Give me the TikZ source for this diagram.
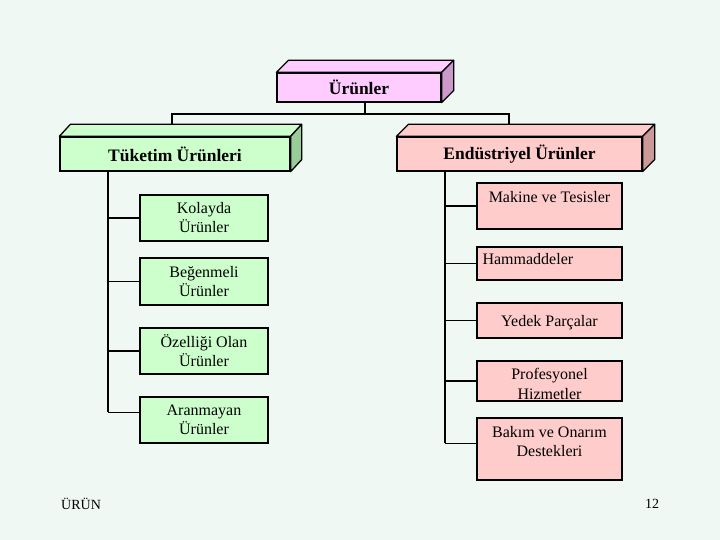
\documentclass[tikz,border=0pt]{standalone}
\usepackage{fontspec}
\setmainfont{Liberation Serif}
\usetikzlibrary{calc}
\definecolor{bg}{HTML}{F0F8F4}
\definecolor{mfront}{HTML}{FFCCFF}
\definecolor{mside}{HTML}{CC99CC}
\definecolor{gfront}{HTML}{CCFFCC}
\definecolor{gside}{HTML}{99CC99}
\definecolor{pfront}{HTML}{FFCCCC}
\definecolor{pside}{HTML}{CC9999}
\begin{document}
\begin{tikzpicture}[x=1pt,y=-1pt,
  conn/.style={line width=1.3pt, black},
  box/.style={draw=black, line width=1.3pt, rectangle, inner sep=0pt, align=center,
    font=\fontsize{16}{19}\selectfont},
  hdr/.style={box, font=\fontsize{17.5}{20}\selectfont\bfseries},
  txt/.style={inner sep=0pt, align=center, font=\fontsize{16}{19}\selectfont},
  foot/.style={inner sep=0pt, font=\fontsize{14}{16}\selectfont},
  face/.style={draw=black, line width=1.3pt, line join=round}]
\fill[bg] (0,0) rectangle (720,540);
\useasboundingbox (0,0) rectangle (720,540);

% header boxes
\node[hdr, fill=mfront, minimum width=164pt, minimum height=29pt] (u) at (359,87.5) {Ürünler};
\filldraw[face, fill=mfront] (u.north west) -- ++(12,-12) -- ($(u.north east)+(12,-12)$) -- (u.north east) -- cycle;
\filldraw[face, fill=mside] (u.north east) -- ++(12,-12) -- ($(u.south east)+(12,-12)$) -- (u.south east) -- cycle;

\node[hdr, fill=gfront, minimum width=230pt, minimum height=34pt] (t) at (175,154) {Tüketim Ürünleri};
\filldraw[face, fill=gfront] (t.north west) -- ++(11,-12) -- ($(t.north east)+(11,-12)$) -- (t.north east) -- cycle;
\filldraw[face, fill=gside] (t.north east) -- ++(11,-12) -- ($(t.south east)+(11,-12)$) -- (t.south east) -- cycle;

\node[hdr, fill=pfront, minimum width=245pt, minimum height=34pt] (e) at (519.5,154) {Endüstriyel Ürünler};
\filldraw[face, fill=pfront] (e.north west) -- ++(12,-12) -- ($(e.north east)+(12,-12)$) -- (e.north east) -- cycle;
\filldraw[face, fill=pside] (e.north east) -- ++(12,-12) -- ($(e.south east)+(12,-12)$) -- (e.south east) -- cycle;

% top connectors
\coordinate (bus) at (365,114);
\coordinate (tl) at (172,125);
\coordinate (tr) at (509,125);
\draw[conn] (bus |- u.south) -- (bus);
\draw[conn] (tl) |- (bus) -| (tr);

% left children
\node[box, fill=gfront, minimum width=128pt, minimum height=46pt] (k) at (204,218) {Kolayda\\Ürünler};
\node[box, fill=gfront, minimum width=128pt, minimum height=47pt] (bg) at (204,281.5) {Beğenmeli\\Ürünler};
\node[box, fill=gfront, minimum width=128pt, minimum height=46pt] (o) at (204,351) {Özelliği Olan\\Ürünler};
\node[box, fill=gfront, minimum width=128pt, minimum height=46pt] (a) at (204,420) {Aranmayan\\Ürünler};
\coordinate (ls) at (108,0);
\coordinate (aw) at ([yshift=-16pt]a.north west);
\draw[conn] (ls |- t.south) -- (ls |- aw);
\draw[conn] (ls |- k.west) -- (k.west);
\draw[conn] (ls |- bg.west) -- (bg.west);
\draw[conn] (ls |- o.west) -- (o.west);
\draw[conn] (ls |- aw) -- (aw);

% right children
\node[box, fill=pfront, minimum width=145pt, minimum height=46pt] (m) at (549.5,206) {};
\node[txt] (mt) at ([yshift=-15pt]m.north) {Makine ve Tesisler};
\node[box, fill=pfront, minimum width=145pt, minimum height=33pt] (h) at (549.5,263.5) {};
\node[txt, anchor=west] (ht) at ([xshift=6pt,yshift=-13pt]h.north west) {Hammaddeler};
\node[box, fill=pfront, minimum width=145pt, minimum height=35pt] (y) at (549.5,320.5) {};
\node[txt] (yt) at ([yshift=-2.5pt]y.center) {Yedek Parçalar};
\node[box, fill=pfront, minimum width=145pt, minimum height=40pt] (p) at (549.5,381) {};
\node[txt] (pt) at ([yshift=-3pt]p.center) {Profesyonel\\[1pt]Hizmetler};
\node[box, fill=pfront, minimum width=145pt, minimum height=62pt] (b) at (549.5,449) {};
\node[txt] (bt) at ([yshift=-24pt]b.north) {Bakım ve Onarım\\Destekleri};
\coordinate (rs) at (445,0);
\coordinate (bw) at ([yshift=-26pt]b.north west);
\draw[conn] (rs |- e.south) -- (rs |- bw);
\draw[conn] (rs |- m.west) -- (m.west);
\draw[conn] (rs |- h.west) -- (h.west);
\draw[conn] (rs |- y.west) -- (y.west);
\draw[conn] (rs |- p.west) -- (p.west);
\draw[conn] (rs |- bw) -- (bw);

% footer
\node[foot, anchor=west] (f1) at (61,504) {ÜRÜN};
\node[foot] (f2) at (652,504) {12};
\end{tikzpicture}
\end{document}
